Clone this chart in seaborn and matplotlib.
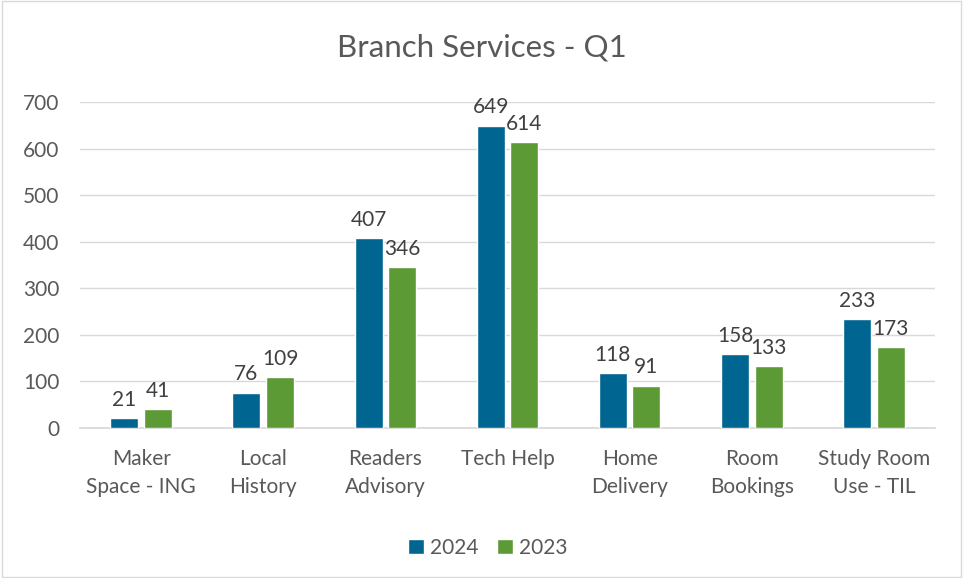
import numpy as np
import pandas as pd
import matplotlib
matplotlib.use("Agg")
import matplotlib.pyplot as plt
import seaborn as sns
from matplotlib.patches import Rectangle

categories = ["Maker\nSpace - ING", "Local\nHistory", "Readers\nAdvisory", "Tech Help",
              "Home\nDelivery", "Room\nBookings", "Study Room\nUse - TIL"]
vals_2024 = [21, 76, 407, 649, 118, 158, 233]
vals_2023 = [41, 109, 346, 614, 91, 133, 173]
years = ["2024", "2023"]
colors = ["#006591", "#5B9A34"]

df = pd.DataFrame({
    "cat": categories * 2,
    "year": [years[0]] * len(categories) + [years[1]] * len(categories),
    "val": vals_2024 + vals_2023,
})

sns.set_theme(style="white")
plt.rcParams['font.family'] = ['Lato', 'DejaVu Sans']
txt = "#595959"
fs = 15

fig = plt.figure(figsize=(9.63, 5.78), dpi=100)
ax = fig.add_axes([80/963, 150/578, 855/963, 326/578])

sns.barplot(data=df, x="cat", y="val", hue="year", palette=colors,
            width=0.55, gap=0.17, saturation=1, ax=ax, zorder=3)

for cont in ax.containers:
    ax.bar_label(cont, fontsize=fs, color="#404040", padding=6)

ax.set_ylim(0, 700)
ax.set_yticks(range(0, 701, 100))
ax.grid(axis="y", color="#D9D9D9", linewidth=1, zorder=0)
for s in ["top", "right", "left"]:
    ax.spines[s].set_visible(False)
ax.spines["bottom"].set_color("#D9D9D9")
ax.tick_params(axis="both", length=0, labelsize=fs, labelcolor=txt)
ax.tick_params(axis="y", pad=15)
ax.tick_params(axis="x", pad=15)
for lab in ax.get_xticklabels():
    lab.set_linespacing(1.5)
ax.set_xlabel("")
ax.set_ylabel("")

ax.legend(loc="upper center", bbox_to_anchor=(0.477, -0.28), ncol=2, frameon=False,
          fontsize=fs, labelcolor=txt, handlelength=0.75, handleheight=0.75,
          handletextpad=0.3, columnspacing=0.9)

fig.text(0.5, 0.918, "Branch Services - Q1", ha="center", va="center",
         fontsize=22.5, color=txt)
fig.patches.append(Rectangle((0.002, 0.002), 0.996, 0.996, transform=fig.transFigure,
                             fill=False, edgecolor="#D9D9D9", linewidth=1))

fig.savefig("out.png", dpi=100)
